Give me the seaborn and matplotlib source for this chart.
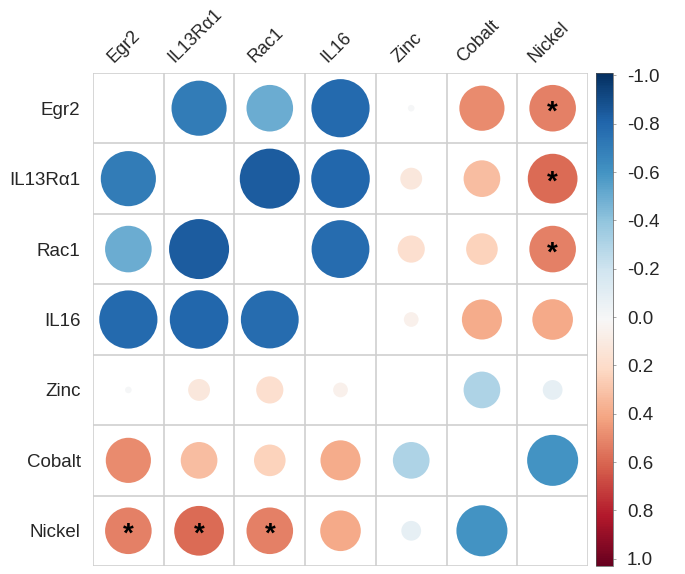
import numpy as np
import pandas as pd
import matplotlib
matplotlib.use("Agg")
import matplotlib.pyplot as plt
import matplotlib.transforms as mtransforms
import seaborn as sns

sns.set_theme(style="white")
plt.rcParams["font.family"] = ["Liberation Sans", "DejaVu Sans"]

# variables (row order == column order)
labels = ["Egr2", "IL13Rα1", "Rac1", "IL16", "Zinc", "Cobalt", "Nickel"]

# upper-triangle correlations, row by row
r_egr2 = [-0.70, -0.50, -0.78, -0.01, 0.47, 0.50]
r_il13 = [-0.83, -0.79, 0.11, 0.31, 0.57]
r_rac1 = [-0.77, 0.17, 0.23, 0.50]
r_il16 = [0.05, 0.37, 0.38]
r_zinc = [-0.31, -0.09]
r_cobalt = [-0.60]

# pairs flagged as significant
sig_pairs = [("Egr2", "Nickel"), ("IL13Rα1", "Nickel"), ("Rac1", "Nickel")]

n = len(labels)
corr = np.full((n, n), np.nan)
for i, row in enumerate([r_egr2, r_il13, r_rac1, r_il16, r_zinc, r_cobalt]):
    for k, v in enumerate(row):
        j = i + 1 + k
        corr[i, j] = v
        corr[j, i] = v

rows = []
for i in range(n):
    for j in range(n):
        if i != j:
            rows.append({"x": j, "y": i, "r": corr[i, j], "absr": abs(corr[i, j])})
df = pd.DataFrame(rows)

fig = plt.figure(figsize=(6.85, 5.74), dpi=100)
ax = fig.add_axes([93 / 685, 1 - 566 / 574, (588 - 93) / 685, (566 - 73) / 574])
cax = fig.add_axes([596 / 685, 1 - 566 / 574, 17 / 685, (566 - 73) / 574])

# circle area proportional to |r| (corrplot style)
sns.scatterplot(data=df, x="x", y="y", hue="r", size="absr",
                palette="RdBu_r", hue_norm=(-1, 1),
                sizes=(0, 2250), size_norm=(0, 1),
                linewidth=0, legend=False, ax=ax, zorder=3)

# significance stars
for a, b in sig_pairs:
    i, j = labels.index(a), labels.index(b)
    for (yy, xx) in [(i, j), (j, i)]:
        ax.text(xx, yy + 0.06, "*", ha="center", va="center",
                fontsize=20, fontweight="bold", color="black", zorder=4)

ax.set_xlim(-0.5, n - 0.5)
ax.set_ylim(n - 0.5, -0.5)
ax.set_xticks(range(n))
ax.set_yticks(range(n))
ax.set_xticks(np.arange(-0.5, n, 1), minor=True)
ax.set_yticks(np.arange(-0.5, n, 1), minor=True)
ax.grid(which="minor", color="#cfcfcf", linewidth=1.2)
ax.grid(which="major", visible=False)
ax.xaxis.tick_top()
ax.set_xticklabels(labels, rotation=45, ha="center", fontsize=13)
ax.set_yticklabels(labels, fontsize=13.5)
ax.tick_params(which="both", length=0)
ax.tick_params(axis="x", pad=5)
ax.tick_params(axis="y", pad=9)
shift = mtransforms.ScaledTranslation(-4 / 100, 0, fig.dpi_scale_trans)
for lab in ax.get_xticklabels():
    lab.set_transform(lab.get_transform() + shift)
ax.set_xlabel("")
ax.set_ylabel("")
for s in ax.spines.values():
    s.set_visible(False)

sm = plt.cm.ScalarMappable(cmap="RdBu_r", norm=plt.Normalize(-1.01, 1.03))
cb = fig.colorbar(sm, cax=cax)
cb.set_ticks(np.linspace(-1, 1, 11))
cb.set_ticklabels(["-1.0", "-0.8", "-0.6", "-0.4", "-0.2", "0.0",
                   "0.2", "0.4", "0.6", "0.8", "1.0"])
cax.invert_yaxis()
cax.tick_params(labelsize=13.5, length=2, width=0.6, color="#999999", pad=8)
cb.outline.set_linewidth(0.5)
cb.outline.set_edgecolor("#555555")

fig.savefig("out.png", dpi=100)
